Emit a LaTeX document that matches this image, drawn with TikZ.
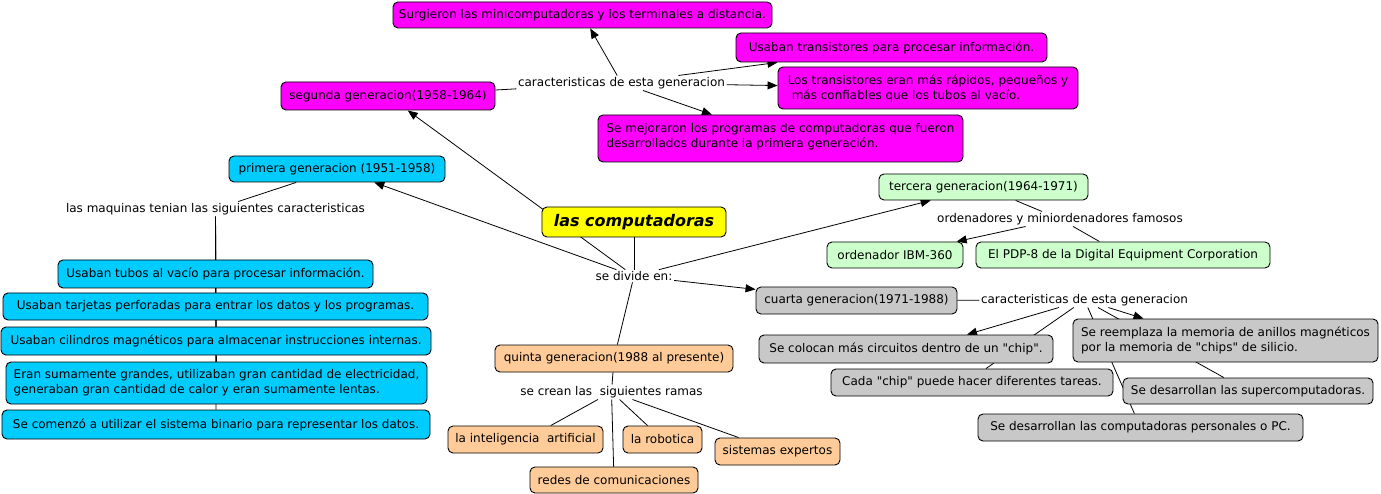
\documentclass[tikz,border=0pt]{standalone}
\usepackage{fontspec}
\setmainfont{DejaVu Sans}[Ligatures=TeXOff]
\usetikzlibrary{arrows.meta}
\pgfdeclarelayer{bg}
\pgfsetlayers{bg,main}
\definecolor{cmag}{HTML}{FF00FF}
\definecolor{ccyan}{HTML}{00CCFF}
\definecolor{cgreen}{HTML}{CCFFCC}
\definecolor{cgray}{HTML}{C8C8C8}
\definecolor{corange}{HTML}{FFCC99}
\definecolor{cyellow}{HTML}{FFFF00}
\tikzset{
  box/.style={draw=black, line width=0.9pt, rounded corners=5pt, inner sep=0pt,
    font=\fontsize{12pt}{15pt}\selectfont, text=black},
  sz/.style 2 args={minimum width=#1pt, minimum height=#2pt},
  lbl/.style={inner sep=1.5pt, font=\fontsize{12pt}{15pt}\selectfont},
  con/.style={line width=0.8pt},
  arr/.style={con, -{Triangle[length=10pt,width=8pt]}},
  mag/.style={box, fill=cmag},
  cya/.style={box, fill=ccyan},
  grn/.style={box, fill=cgreen},
  gry/.style={box, fill=cgray},
  org/.style={box, fill=corange},
}
\begin{document}
\begin{tikzpicture}[x=1pt,y=-1pt]
\useasboundingbox (0,0) rectangle (1381,494);

% central
\node[box, fill=cyellow, sz={184}{30}, font=\fontsize{16pt}{19pt}\selectfont\bfseries\itshape] (comp) at (634,222) {las computadoras};
\node[lbl] (l0) at (634,276) {se divide en:};

% segunda
\node[mag, sz={214}{28}] (seg) at (388,96) {segunda generacion(1958-1964)};
\node[lbl] (l2) at (621.5,83) {caracteristicas de esta generacion};
\node[mag, sz={379}{26}] (surg) at (582.5,15) {Surgieron las minicomputadoras y los terminales a distancia.};
\node[mag, sz={311}{29}] (utr) at (891.5,47.5) {Usaban transistores para procesar información.};
\node[mag, sz={300}{42}, align=left] (ltr) at (928,88) {Los transistores eran más rápidos, pequeños y\\\hspace*{4pt}más confiables que los tubos al vacío.};
\node[mag, sz={365}{47}, align=left] (mej) at (780.5,138.5) {Se mejoraron los programas de computadoras que fueron\\desarrollados durante la primera generación.\\[-8pt]};

% primera
\node[cya, sz={216}{26}] (pri) at (337,169) {primera generacion (1951-1958)};
\node[lbl] (l1) at (215.5,209) {las maquinas tenian las siguientes caracteristicas};
\node[cya, sz={315}{28}] (c1) at (215.5,274) {Usaban tubos al vacío para procesar información.};
\node[cya, sz={425}{27}] (c2) at (215.5,306.5) {Usaban tarjetas perforadas para entrar los datos y los programas.};
\node[cya, sz={430}{28}] (c3) at (216,341) {Usaban cilindros magnéticos para almacenar instrucciones internas.};
\node[cya, sz={421}{42}, align=left] (c4) at (216.5,383) {Eran sumamente grandes, utilizaban gran cantidad de electricidad,\\generaban gran cantidad de calor y eran sumamente lentas.};
\node[cya, sz={428}{29}] (c5) at (216,424.5) {Se comenzó a utilizar el sistema binario para representar los datos.};

% tercera
\node[grn, sz={209}{26}] (ter) at (983.5,187) {tercera generacion(1964-1971)};
\node[lbl] (l3) at (1060,219) {ordenadores y miniordenadores famosos};
\node[grn, sz={136}{26}] (ibm) at (895,255) {ordenador IBM-360};
\node[grn, sz={294}{26}] (pdp) at (1123,255) {El PDP-8 de la Digital Equipment Corporation};

% cuarta
\node[gry, sz={201}{27}] (cua) at (856.5,300.5) {cuarta generacion(1971-1988)};
\node[lbl] (l4) at (1084.5,300) {caracteristicas de esta generacion};
\node[gry, sz={294}{28}] (colo) at (906,349) {Se colocan más circuitos dentro de un "chip".};
\node[gry, sz={305}{43}, align=left] (rem) at (1225.5,340.5) {Se reemplaza la memoria de anillos magnéticos\\por la memoria de "chips" de silicio.};
\node[gry, sz={282}{27}] (cada) at (972,382.5) {Cada "chip" puede hacer diferentes tareas.};
\node[gry, sz={250}{26}] (sup) at (1248,391) {Se desarrollan las supercomputadoras.};
\node[gry, sz={325}{27}] (pc) at (1140.5,427.5) {Se desarrollan las computadoras personales o PC.};

% quinta
\node[org, sz={238}{27}] (qui) at (614,358.5) {quinta generacion(1988 al presente)};
\node[lbl] (l5) at (611.5,392) {se crean las\ \ siguientes ramas};
\node[org, sz={155}{27}] (intel) at (525.5,439.5) {la inteligencia\ \ artificial};
\node[org, sz={79}{27}] (robot) at (662.5,439.5) {la robotica};
\node[org, sz={125}{27}] (sist) at (777.5,451.5) {sistemas expertos};
\node[org, sz={168}{26}] (redes) at (614,480) {redes de comunicaciones};

\begin{pgfonlayer}{bg}
\fill[white] (0,0) rectangle (1381,494);
% central
\draw[con] (comp) -- (l0);
\draw[arr] (l0) -- (pri);
\draw[arr] (l0) -- (seg);
\draw[arr] (l0) -- (ter);
\draw[arr] (l0) -- (cua);
\draw[con] (l0) -- (qui);
% segunda
\draw[con] (seg) -- (l2);
\draw[arr] (l2) -- (surg);
\draw[arr] (l2) -- ([xshift=-114pt]utr.south);
\draw[arr] (l2) -- (ltr);
\draw[arr] (l2) -- (mej);
% primera
\draw[con] (pri) -- (l1);
\draw[con] (l1) -- (c1);
\draw[con] (l1) -- (c2);
\draw[con] (l1) -- (c3);
\draw[con] (l1) -- (c4);
\draw[con] (l1) -- (c5);
% tercera
\draw[con] (ter) -- (l3);
\draw[arr] (l3) -- (ibm);
\draw[con] (l3) -- (pdp);
% cuarta
\draw[con] (cua) -- (l4);
\draw[arr] (l4) -- ([xshift=61pt]colo.north);
\draw[con] (l4) -- ([xshift=14pt]cada.north);
\draw[con] (l4) -- (pc);
\draw[con] (l4) -- (sup);
\draw[arr] (l4) -- ([xshift=-82pt]rem.north);
% quinta
\draw[con] (qui) -- (l5);
\draw[con] (l5) -- (intel);
\draw[con] (l5) -- (robot);
\draw[con] (l5) -- (sist);
\draw[con] (l5) -- (redes);
\end{pgfonlayer}
\end{tikzpicture}
\end{document}
